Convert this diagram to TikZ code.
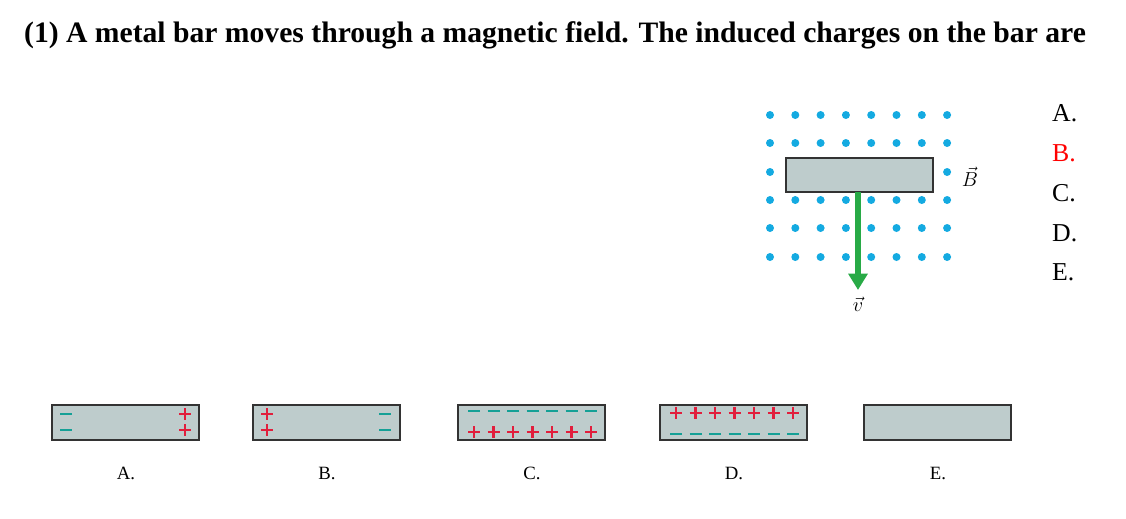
\documentclass[tikz,border=0pt]{standalone}
\usepackage{fontspec}
\usetikzlibrary{arrows.meta}
\setmainfont{Liberation Serif}
\definecolor{bargray}{RGB}{190,204,204}
\definecolor{dotblue}{RGB}{20,170,225}
\definecolor{vgreen}{RGB}{40,170,70}
\definecolor{pcol}{RGB}{225,30,60}
\definecolor{mcol}{RGB}{20,160,150}
\newcommand{\pchg}[2]{\draw[pcol, line width=1.8pt] (#1-6,#2) -- (#1+6,#2) (#1,#2-6) -- (#1,#2+6);}
\newcommand{\mchg}[2]{\draw[mcol, line width=1.8pt] (#1-6,#2) -- (#1+6,#2);}
\begin{document}
\begin{tikzpicture}[x=0.03cm,y=-0.03cm,
  bar/.style={draw=black!80, line width=0.9pt, fill=bargray},
  lbl/.style={font=\fontsize{16}{16}\selectfont, inner sep=1pt},
  ans/.style={font=\fontsize{22}{22}\selectfont, anchor=west}]
  \useasboundingbox (0,0) rectangle (1126,518);
  \node[anchor=west, font=\fontsize{25.3}{25}\selectfont\bfseries] (title) at (20,35)
    {(1) A metal bar moves through a magnetic field. The induced charges on the bar are};
  % field
  \foreach \y in {115,143,200,228,257}
    \foreach \c in {0,...,7}
      \fill[dotblue] (770+\c*25.3,\y) circle (4);
  \fill[dotblue] (770,172) circle (4) (947.1,172) circle (4);
  \draw[bar] (786,158) rectangle (933,192);
  \coordinate (vtop) at (858,192);
  \coordinate (vend) at (858,290);
  \draw[vgreen, line width=5pt, -{Triangle[length=14pt,width=16pt]}] (vtop) -- (vend);
  \node[lbl] (v) at (858,304) {$\vec{v}$};
  \node[lbl] (B) at (970,177) {$\vec{B}$};
  % answers
  \node[ans] (ansA) at (1048,113) {A.};
  \node[ans, text=red] (ansB) at (1048,153) {B.};
  \node[ans] (ansC) at (1048,193) {C.};
  \node[ans] (ansD) at (1048,233) {D.};
  \node[ans] (ansE) at (1048,272) {E.};
  % option bars
  \foreach \x/\t in {52/A,253/B,458/C,660/D,864/E}{
    \draw[bar] (\x,405) rectangle ++(147,35);
    \node[lbl] (lab\t) at (\x+74,473) {\t.};
  }
  \mchg{66}{414} \mchg{66}{430} \pchg{185}{414} \pchg{185}{430}
  \pchg{267}{414} \pchg{267}{430} \mchg{385}{414} \mchg{385}{430}
  \foreach \i in {0,...,6}{
    \mchg{474+\i*19.5}{411} \pchg{474+\i*19.5}{432}
    \pchg{676+\i*19.5}{413} \mchg{676+\i*19.5}{434}
  }
\end{tikzpicture}
\end{document}
